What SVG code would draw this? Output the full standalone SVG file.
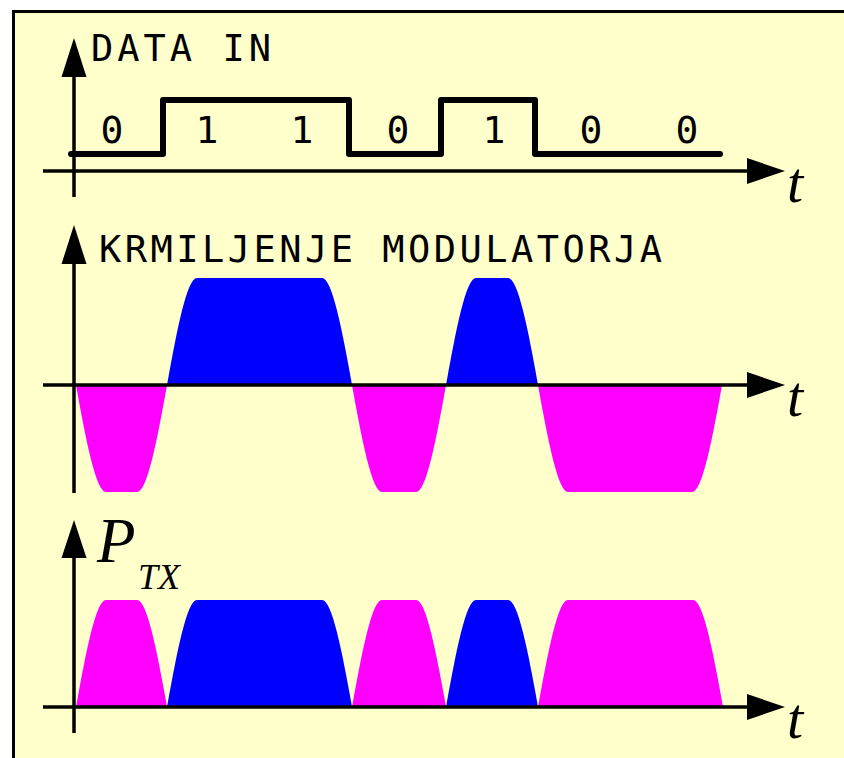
<svg xmlns="http://www.w3.org/2000/svg" width="844" height="758" viewBox="0 0 844 758">
<style>
.ax{stroke:#000;stroke-width:3.5;fill:none}
.mono{font-family:"DejaVu Sans Mono",monospace;font-size:37px;fill:#000}
.dig{font-family:"DejaVu Sans Mono",monospace;font-size:38px;fill:#000;text-anchor:middle}
.it{font-family:"Liberation Serif","Times New Roman",serif;font-style:italic;fill:#000}
.blue{fill:#0000ff}
.mag{fill:#ff00ff}
</style>
<rect x="0" y="0" width="844" height="758" fill="#ffffff"/>
<rect x="13.5" y="11.5" width="900" height="800" fill="#ffffcc" stroke="#000" stroke-width="3"/>

<g id="plot1">
  <path d="M71,154 H163 V100 H349 V154 H441 V100 H535 V154 H720" fill="none" stroke="#000" stroke-width="6" stroke-linecap="round" stroke-linejoin="round"/>
  <text class="mono" x="91" y="61" textLength="180" lengthAdjust="spacing">DATA IN</text>
  <text class="dig" x="112" y="143">0</text>
  <text class="dig" x="207" y="143">1</text>
  <text class="dig" x="302" y="143">1</text>
  <text class="dig" x="398" y="143">0</text>
  <text class="dig" x="494" y="143">1</text>
  <text class="dig" x="591" y="143">0</text>
  <text class="dig" x="687" y="143">0</text>
</g>

<g id="plot2">
  <path class="mag" d="M76,385 C86,441 96,492 106,492 L137,492 C147,492 157,441 167,385 Z"/>
  <path class="blue" d="M167,385 C177,329 187,278 197,278 L322,278 C332,278 342,329 352,385 Z"/>
  <path class="mag" d="M352,385 C362,441 372,492 382,492 L416,492 C426,492 436,441 446,385 Z"/>
  <path class="blue" d="M446,385 C456,329 466,278 476,278 L508,278 C518,278 528,329 538,385 Z"/>
  <path class="mag" d="M538,385 C548,441 558,492 568,492 L692,492 C702,492 712,441 722,385 Z"/>
  <text class="mono" x="99" y="262" textLength="563" lengthAdjust="spacing">KRMILJENJE MODULATORJA</text>
</g>

<g id="plot3">
  <path class="mag" d="M76,707 C86,651 96,600 106,600 L137,600 C147,600 157,651 167,707 Z"/>
  <path class="blue" d="M167,707 C177,651 187,600 197,600 L322,600 C332,600 342,651 352,707 Z"/>
  <path class="mag" d="M352,707 C362,651 372,600 382,600 L416,600 C426,600 436,651 446,707 Z"/>
  <path class="blue" d="M446,707 C456,651 466,600 476,600 L508,600 C518,600 528,651 538,707 Z"/>
  <path class="mag" d="M538,707 C548,651 558,600 568,600 L693,600 C703,600 713,651 723,707 Z"/>
  <text class="it" x="97" y="562" font-size="63">P</text>
  <text class="it" x="138" y="589" font-size="36">TX</text>
</g>

<g id="axes">
  <line class="ax" x1="74" y1="70" x2="74" y2="197"/>
  <line class="ax" x1="43" y1="171" x2="752" y2="171"/>
  <polygon points="74,38 61.5,77 86.5,77"/>
  <polygon points="785,171 747,158 747,184"/>
  <text class="it" x="787" y="202" font-size="58">t</text>

  <line class="ax" x1="74" y1="258" x2="74" y2="493"/>
  <line class="ax" x1="43" y1="385" x2="752" y2="385"/>
  <polygon points="74,225 61.5,264 86.5,264"/>
  <polygon points="785,385 747,372 747,398"/>
  <text class="it" x="787" y="416" font-size="58">t</text>

  <line class="ax" x1="74" y1="552" x2="74" y2="733"/>
  <line class="ax" x1="43" y1="707" x2="752" y2="707"/>
  <polygon points="74,520 61.5,558 86.5,558"/>
  <polygon points="785,707 747,694 747,720"/>
  <text class="it" x="787" y="738" font-size="58">t</text>
</g>
</svg>
